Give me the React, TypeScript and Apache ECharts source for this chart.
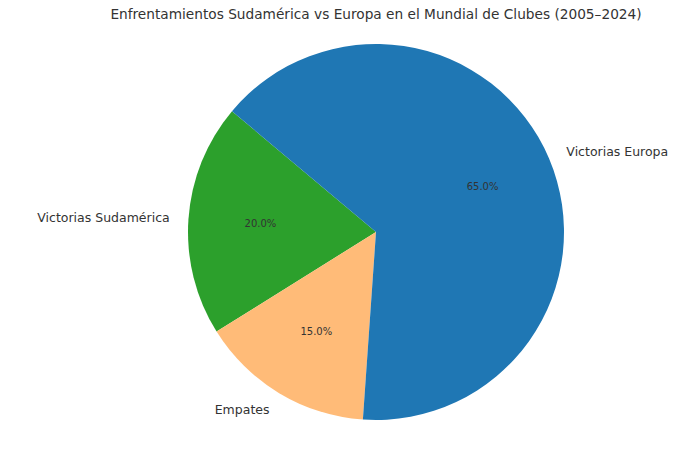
import React, { useEffect, useRef } from "react";
import * as echarts from "echarts";

const titleText = "Enfrentamientos Sudamérica vs Europa en el Mundial de Clubes (2005–2024)";
const categories = ["Victorias Sudamérica", "Empates", "Victorias Europa"];
const values = [20, 15, 65];
const colors = ["#2ca02c", "#ffbb78", "#1f77b4"];

const CX = 376;
const CY = 232;
const R = 188;

export default function App() {
  const ref = useRef<HTMLDivElement>(null);
  useEffect(() => {
    document.body.style.margin = "0";
    const chart = echarts.init(ref.current!, undefined, { renderer: "svg" });
    const data = categories.map((name, i) => ({
      name,
      value: values[i],
      itemStyle: { color: colors[i] },
    }));
    const font = "DejaVu Sans";
    chart.setOption({
      animation: false,
      backgroundColor: "#ffffff",
      graphic: [
        {
          type: "text",
          x: CX,
          y: 14,
          silent: true,
          style: {
            text: titleText,
            fontFamily: font,
            fontSize: 13.7,
            fill: "#333333",
            textAlign: "center",
            textVerticalAlign: "middle",
          },
        },
      ],
      series: [
        {
          type: "pie",
          center: [CX, CY],
          radius: [0, R],
          startAngle: 140,
          clockwise: false,
          avoidLabelOverlap: false,
          silent: true,
          data,
          label: {
            show: true,
            position: "outside",
            formatter: "{b}",
            fontFamily: font,
            fontSize: 12.5,
            color: "#333333",
            distanceToLabelLine: 0,
          },
          labelLine: { show: false, length: R * 0.1, length2: 0 },
        },
        {
          type: "pie",
          center: [CX, CY],
          radius: [0, R * 1.2],
          startAngle: 140,
          clockwise: false,
          avoidLabelOverlap: false,
          silent: true,
          data: categories.map((name, i) => ({
            name,
            value: values[i],
            itemStyle: { color: "rgba(0,0,0,0)" },
          })),
          label: {
            show: true,
            position: "inside",
            formatter: (p: any) => p.percent.toFixed(1) + "%",
            fontFamily: font,
            fontSize: 10,
            color: "#333333",
          },
          labelLine: { show: false },
        },
      ],
    });
    return () => chart.dispose();
  }, []);
  return <div ref={ref} style={{ width: 692, height: 452 }} />;
}
